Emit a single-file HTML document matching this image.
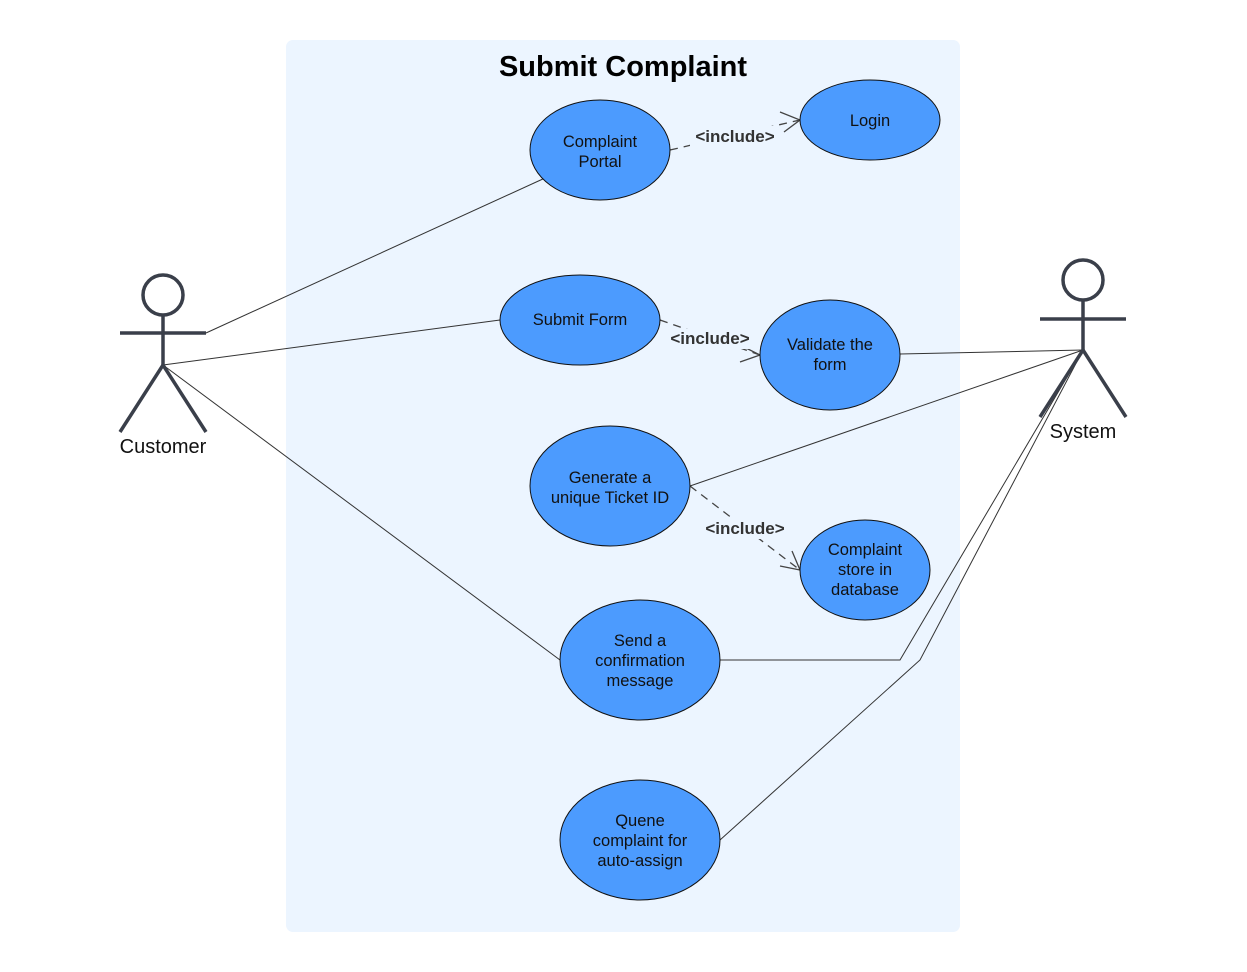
<!DOCTYPE html>
<html><head><meta charset="utf-8"><style>
html,body{margin:0;padding:0;background:#fff;}
svg{display:block;font-family:"Liberation Sans",sans-serif;}
</style></head><body>
<svg width="1247" height="972" viewBox="0 0 1247 972" xmlns="http://www.w3.org/2000/svg">
<rect x="286" y="40" width="674" height="892" rx="7" fill="#ECF5FF"/>
<text x="623" y="76" text-anchor="middle" font-size="29" font-weight="bold" fill="#000">Submit Complaint</text>

<g stroke="#333" stroke-width="1" fill="none">
<line x1="206" y1="333" x2="545" y2="178"/>
<line x1="163" y1="365" x2="500" y2="320"/>
<line x1="163" y1="365" x2="560" y2="660"/>
<line x1="900" y1="354" x2="1083" y2="350"/>
<line x1="690" y1="486" x2="1083" y2="350"/>
<polyline points="720,660 900,660 1083,350"/>
<polyline points="720,840 920,660 1083,350"/>
</g>

<g stroke="#444" stroke-width="1.3" fill="none" stroke-dasharray="8,6">
<line x1="670" y1="150" x2="800" y2="120"/>
<line x1="660" y1="320" x2="760" y2="355"/>
<line x1="690" y1="486" x2="800" y2="570"/>
</g>
<g stroke="#444" stroke-width="1.3" fill="none">
<polyline points="780,112 800,120 784,132"/>
<polyline points="738,344 760,355 740,362"/>
<polyline points="780,566 800,570 792,551"/>
</g>
<g fill="#ECF5FF">
<rect x="690" y="126" width="90" height="20"/>
<rect x="665" y="329" width="90" height="20"/>
<rect x="700" y="519" width="90" height="20"/>
</g>
<g font-size="17" font-weight="bold" fill="#333" text-anchor="middle">
<text x="735" y="142">&lt;include&gt;</text>
<text x="710" y="344">&lt;include&gt;</text>
<text x="745" y="534">&lt;include&gt;</text>
</g>

<g fill="#4C9BFE" stroke="#111" stroke-width="1">
<ellipse cx="600" cy="150" rx="70" ry="50"/>
<ellipse cx="870" cy="120" rx="70" ry="40"/>
<ellipse cx="580" cy="320" rx="80" ry="45"/>
<ellipse cx="830" cy="355" rx="70" ry="55"/>
<ellipse cx="610" cy="486" rx="80" ry="60"/>
<ellipse cx="865" cy="570" rx="65" ry="50"/>
<ellipse cx="640" cy="660" rx="80" ry="60"/>
<ellipse cx="640" cy="840" rx="80" ry="60"/>
</g>
<g font-size="16.5" fill="#111" text-anchor="middle">
<text x="600" y="147">Complaint</text><text x="600" y="167">Portal</text>
<text x="870" y="126">Login</text>
<text x="580" y="325">Submit Form</text>
<text x="830" y="350">Validate the</text><text x="830" y="370">form</text>
<text x="610" y="483">Generate a</text><text x="610" y="503">unique Ticket ID</text>
<text x="865" y="555">Complaint</text><text x="865" y="575">store in</text><text x="865" y="595">database</text>
<text x="640" y="646">Send a</text><text x="640" y="666">confirmation</text><text x="640" y="686">message</text>
<text x="640" y="826">Quene</text><text x="640" y="846">complaint for</text><text x="640" y="866">auto-assign</text>
</g>

<g stroke="#3A3F4A" stroke-width="3.5" fill="none">
<circle cx="163" cy="295" r="20"/>
<line x1="163" y1="315" x2="163" y2="365"/>
<line x1="120" y1="333" x2="206" y2="333"/>
<polyline points="120,432 163,365 206,432"/>
<circle cx="1083" cy="280" r="20"/>
<line x1="1083" y1="300" x2="1083" y2="350"/>
<line x1="1040" y1="319" x2="1126" y2="319"/>
<polyline points="1040,417 1083,350 1126,417"/>
</g>
<g font-size="20" fill="#111" text-anchor="middle">
<text x="163" y="453">Customer</text>
<text x="1083" y="438">System</text>
</g>
</svg>
</body></html>
